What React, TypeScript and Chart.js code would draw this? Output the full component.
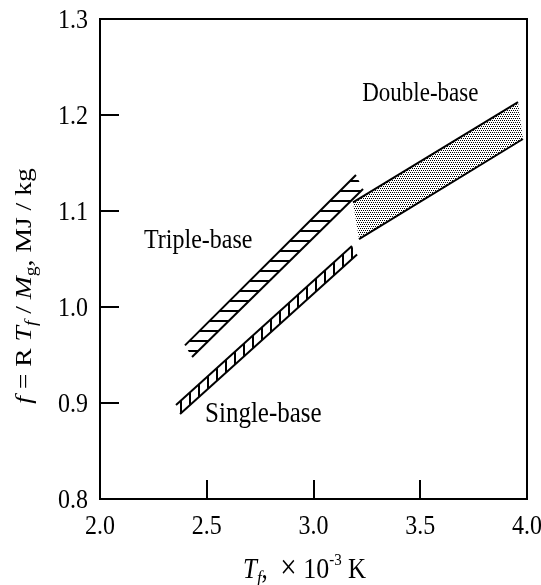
import React, { useEffect, useRef } from 'react';
import { Chart, registerables } from 'chart.js';

Chart.register(...registerables);

// ---- axis ranges & ticks ----
const X_MIN = 2.0;
const X_MAX = 4.0;
const Y_MIN = 0.8;
const Y_MAX = 1.3;
const xTickValues = [2.0, 2.5, 3.0, 3.5, 4.0];
const yTickValues = [0.8, 0.9, 1.0, 1.1, 1.2, 1.3];

// ---- bands (edge lines, x / y pairs) ----
const tripleUpperX = [2.398, 3.199];
const tripleUpperY = [0.960, 1.1375];
const tripleLowerX = [2.431, 3.232];
const tripleLowerY = [0.948, 1.123];

const singleUpperX = [2.356, 3.180];
const singleUpperY = [0.898, 1.0635];
const singleLowerX = [2.375, 3.204];
const singleLowerY = [0.8885, 1.0547];

const doubleUpperX = [3.185, 3.958];
const doubleUpperY = [1.109, 1.2135];
const doubleLowerX = [3.213, 3.981];
const doubleLowerY = [1.0708, 1.175];

// ---- band labels (text, x, y at left baseline) ----
const labelTexts = ['Triple-base', 'Single-base', 'Double-base'];
const labelX = [2.206, 2.492, 3.228];
const labelY = [1.0615, 0.880, 1.2149];
const labelSizes = [24, 25, 23];

const SERIF = '"Liberation Serif", "Times New Roman", Times, serif';
const STRETCH = 1.15;

type Pt = { x: number; y: number };
const toPts = (xs: number[], ys: number[]): Pt[] => xs.map((x, i) => ({ x, y: ys[i] }));

type Run = { t: string; it?: boolean; sz: number; dy?: number };

function fontOf(r: Run) {
  return `${r.it ? 'italic ' : ''}${r.sz}px ${SERIF}`;
}

function drawRuns(
  ctx: CanvasRenderingContext2D,
  runs: Run[],
  x: number,
  y: number,
  align: 'left' | 'center' | 'right',
  rotated: boolean
) {
  ctx.save();
  ctx.translate(x, y);
  if (rotated) {
    ctx.rotate(-Math.PI / 2);
    ctx.scale(STRETCH, 1);
  } else {
    ctx.scale(1, STRETCH);
  }
  let w = 0;
  for (const r of runs) {
    ctx.font = fontOf(r);
    w += ctx.measureText(r.t).width;
  }
  let cx = align === 'left' ? 0 : align === 'center' ? -w / 2 : -w;
  ctx.textAlign = 'left';
  ctx.textBaseline = 'alphabetic';
  ctx.fillStyle = '#000';
  for (const r of runs) {
    ctx.font = fontOf(r);
    ctx.fillText(r.t, cx, r.dy || 0);
    cx += ctx.measureText(r.t).width;
  }
  ctx.restore();
}

const decorPlugin = {
  id: 'decor',
  afterDraw(chart: any) {
    const { ctx, chartArea } = chart;
    const xs = chart.scales.x;
    const ys = chart.scales.y;
    const { left, right, top, bottom } = chartArea;
    ctx.save();
    ctx.strokeStyle = '#000';
    ctx.lineWidth = 2;
    ctx.strokeRect(left, top, right - left, bottom - top);

    // inward ticks
    const TL = 19;
    ctx.beginPath();
    for (const t of xs.ticks) {
      if (t.value <= X_MIN || t.value >= X_MAX) continue;
      const px = Math.round(xs.getPixelForValue(t.value));
      ctx.moveTo(px, bottom);
      ctx.lineTo(px, bottom - TL);
    }
    for (const t of ys.ticks) {
      if (t.value <= Y_MIN || t.value >= Y_MAX) continue;
      const py = Math.round(ys.getPixelForValue(t.value));
      ctx.moveTo(left, py);
      ctx.lineTo(left + TL, py);
    }
    ctx.stroke();

    // tick labels
    const tsz = 24;
    const off = 0.338 * tsz * STRETCH;
    for (const t of ys.ticks) {
      const py = ys.getPixelForValue(t.value);
      drawRuns(ctx, [{ t: t.value.toFixed(1), sz: tsz }], left - 12, py + off, 'right', false);
    }
    for (const t of xs.ticks) {
      const px = xs.getPixelForValue(t.value);
      drawRuns(ctx, [{ t: t.value.toFixed(1), sz: tsz }], px, bottom + 25.5 + off, 'center', false);
    }

    // band labels
    labelTexts.forEach((txt, i) => {
      drawRuns(
        ctx,
        [{ t: txt, sz: labelSizes[i] }],
        xs.getPixelForValue(labelX[i]),
        ys.getPixelForValue(labelY[i]),
        'left',
        false
      );
    });

    // x-axis title
    drawRuns(
      ctx,
      [
        { t: 'T', it: true, sz: 25 },
        { t: 'f', it: true, sz: 17, dy: 5 },
        { t: ',  ', sz: 25 },
        { t: '\u00D7', sz: 29 },
        { t: ' 10', sz: 26 },
        { t: '-3', sz: 15, dy: -11 },
        { t: ' K', sz: 25 },
      ],
      (left + right) / 2 - 9,
      578,
      'center',
      false
    );

    // y-axis title
    drawRuns(
      ctx,
      [
        { t: 'f', it: true, sz: 24 },
        { t: ' = R ', sz: 24 },
        { t: 'T', it: true, sz: 24 },
        { t: 'f', it: true, sz: 17, dy: 5 },
        { t: ' / ', sz: 24 },
        { t: 'M', it: true, sz: 24 },
        { t: 'g', sz: 17, dy: 5 },
        { t: ', MJ / kg', sz: 24 },
      ],
      31,
      286,
      'center',
      true
    );
    ctx.restore();
  },
};

export default function App() {
  const ref = useRef<HTMLCanvasElement>(null);

  useEffect(() => {
    const canvas = ref.current;
    if (!canvas) return;
    const c2d = canvas.getContext('2d') as CanvasRenderingContext2D;

    const makeHatchH = (spacing: number, lw: number) => {
      const t = document.createElement('canvas');
      t.width = 8;
      t.height = spacing;
      const g = t.getContext('2d') as CanvasRenderingContext2D;
      g.fillStyle = '#000';
      g.fillRect(0, 0, 8, lw);
      return c2d.createPattern(t, 'repeat');
    };
    const makeHatchV = (spacing: number, lw: number) => {
      const t = document.createElement('canvas');
      t.width = spacing;
      t.height = 8;
      const g = t.getContext('2d') as CanvasRenderingContext2D;
      g.fillStyle = '#000';
      g.fillRect(0, 0, lw, 8);
      return c2d.createPattern(t, 'repeat');
    };
    const makeStipple = () => {
      const t = document.createElement('canvas');
      t.width = 4;
      t.height = 4;
      const g = t.getContext('2d') as CanvasRenderingContext2D;
      g.fillStyle = '#000';
      g.fillRect(0, 0, 1, 1);
      g.fillRect(2, 0, 1, 1);
      g.fillRect(1, 2, 1, 1);
      g.fillRect(3, 2, 1, 1);
      return c2d.createPattern(t, 'repeat');
    };

    const tU = toPts(tripleUpperX, tripleUpperY);
    const tL = toPts(tripleLowerX, tripleLowerY);
    const sU = toPts(singleUpperX, singleUpperY);
    const sL = toPts(singleLowerX, singleLowerY);
    const dU = toPts(doubleUpperX, doubleUpperY);
    const dL = toPts(doubleLowerX, doubleLowerY);

    const edge = (data: Pt[]) => ({
      data,
      showLine: true,
      fill: false,
      borderColor: '#000',
      borderWidth: 2,
      pointRadius: 0,
      tension: 0,
    });
    const area = (up: Pt[], lo: Pt[], bg: any) => ({
      data: [...up, ...lo.slice().reverse()],
      showLine: true,
      fill: 'shape',
      backgroundColor: bg,
      borderColor: 'rgba(0,0,0,0)',
      borderWidth: 0,
      pointRadius: 0,
      tension: 0,
    });

    const chart = new Chart(canvas, {
      type: 'scatter',
      data: {
        datasets: [
          edge(tU),
          edge(tL),
          edge(sU),
          edge(sL),
          edge(dU),
          edge(dL),
          area(tU, tL, makeHatchH(10, 2)),
          area(sU, sL, makeHatchV(9, 2)),
          area(dU, dL, makeStipple()),
        ] as any,
      },
      options: {
        animation: false,
        responsive: true,
        maintainAspectRatio: false,
        devicePixelRatio: 1,
        events: [],
        layout: { padding: { left: 0, right: 14, top: 19, bottom: 0 } },
        plugins: {
          legend: { display: false },
          tooltip: { enabled: false },
        },
        scales: {
          x: {
            type: 'linear',
            min: X_MIN,
            max: X_MAX,
            afterBuildTicks: (s: any) => {
              s.ticks = xTickValues.map((v) => ({ value: v }));
            },
            ticks: { display: false },
            grid: { display: false },
            border: { display: false },
            afterFit: (s: any) => {
              s.height = 86;
              s.paddingLeft = 0;
              s.paddingRight = 0;
              s.paddingTop = 0;
              s.paddingBottom = 0;
            },
          },
          y: {
            type: 'linear',
            min: Y_MIN,
            max: Y_MAX,
            afterBuildTicks: (s: any) => {
              s.ticks = yTickValues.map((v) => ({ value: v }));
            },
            ticks: { display: false },
            grid: { display: false },
            border: { display: false },
            afterFit: (s: any) => {
              s.width = 100;
              s.paddingLeft = 0;
              s.paddingRight = 0;
              s.paddingTop = 0;
              s.paddingBottom = 0;
            },
          },
        },
      } as any,
      plugins: [decorPlugin],
    });
    return () => chart.destroy();
  }, []);

  return (
    <div style={{ position: 'fixed', left: 0, top: 0, width: 541, height: 585, background: '#fff' }}>
      <canvas ref={ref} />
    </div>
  );
}
